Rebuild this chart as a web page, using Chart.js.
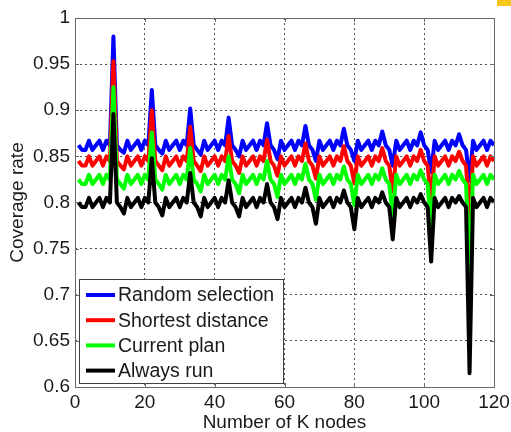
<!DOCTYPE html>
<html>
<head>
<meta charset="utf-8">
<script src="https://cdn.jsdelivr.net/npm/chart.js@4"></script>
<style>
  body { margin: 0; background: #fff; }
  #wrap { position: relative; width: 511px; height: 432px; }
  #mark { position: absolute; left: 497px; top: 0; width: 14px; height: 6px; background: #f5c518; }
</style>
</head>
<body>
<div id="wrap">
  <canvas id="coverageChart" width="511" height="432"></canvas>
  <div id="mark"></div>
</div>
<script>
// Number of K nodes (x)
const kNodes = [
  1, 2, 3, 4, 5, 6, 7, 8, 9, 10,
  11, 12, 13, 14, 15, 16, 17, 18, 19, 20,
  21, 22, 23, 24, 25, 26, 27, 28, 29, 30,
  31, 32, 33, 34, 35, 36, 37, 38, 39, 40,
  41, 42, 43, 44, 45, 46, 47, 48, 49, 50,
  51, 52, 53, 54, 55, 56, 57, 58, 59, 60,
  61, 62, 63, 64, 65, 66, 67, 68, 69, 70,
  71, 72, 73, 74, 75, 76, 77, 78, 79, 80,
  81, 82, 83, 84, 85, 86, 87, 88, 89, 90,
  91, 92, 93, 94, 95, 96, 97, 98, 99, 100,
  101, 102, 103, 104, 105, 106, 107, 108, 109, 110,
  111, 112, 113, 114, 115, 116, 117, 118, 119, 120
];

const randomSelection = [
  0.862, 0.857, 0.857, 0.867, 0.857, 0.862, 0.867, 0.857, 0.867, 0.862,
  0.980, 0.862, 0.857, 0.854, 0.867, 0.857, 0.862, 0.867, 0.857, 0.867, 0.862,
  0.922, 0.862, 0.857, 0.853, 0.867, 0.857, 0.862, 0.867, 0.857, 0.867, 0.862,
  0.902, 0.862, 0.857, 0.852, 0.867, 0.857, 0.862, 0.867, 0.857, 0.867, 0.862,
  0.892, 0.862, 0.857, 0.850, 0.867, 0.857, 0.862, 0.867, 0.857, 0.867, 0.862,
  0.886, 0.862, 0.857, 0.847, 0.867, 0.857, 0.862, 0.867, 0.857, 0.867, 0.862,
  0.883, 0.862, 0.857, 0.845, 0.867, 0.857, 0.862, 0.867, 0.857, 0.867, 0.862,
  0.880, 0.862, 0.857, 0.845, 0.867, 0.857, 0.862, 0.867, 0.857, 0.867, 0.862,
  0.877, 0.862, 0.857, 0.840, 0.867, 0.857, 0.862, 0.867, 0.857, 0.867, 0.862,
  0.876, 0.862, 0.857, 0.833, 0.867, 0.857, 0.862, 0.867, 0.857, 0.867, 0.862,
  0.874, 0.862, 0.857, 0.824, 0.867, 0.857, 0.862, 0.867, 0.857, 0.867, 0.862
];

const shortestDistance = [
  0.845, 0.840, 0.840, 0.850, 0.840, 0.845, 0.850, 0.840, 0.850, 0.845,
  0.953, 0.845, 0.840, 0.836, 0.850, 0.840, 0.845, 0.850, 0.840, 0.850, 0.845,
  0.900, 0.845, 0.840, 0.835, 0.850, 0.840, 0.845, 0.850, 0.840, 0.850, 0.845,
  0.882, 0.845, 0.840, 0.834, 0.850, 0.840, 0.845, 0.850, 0.840, 0.850, 0.845,
  0.872, 0.845, 0.840, 0.832, 0.850, 0.840, 0.845, 0.850, 0.840, 0.850, 0.845,
  0.868, 0.845, 0.840, 0.829, 0.850, 0.840, 0.845, 0.850, 0.840, 0.850, 0.845,
  0.864, 0.845, 0.840, 0.826, 0.850, 0.840, 0.845, 0.850, 0.840, 0.850, 0.845,
  0.861, 0.845, 0.840, 0.821, 0.850, 0.840, 0.845, 0.850, 0.840, 0.850, 0.845,
  0.859, 0.845, 0.840, 0.812, 0.850, 0.840, 0.845, 0.850, 0.840, 0.850, 0.845,
  0.857, 0.845, 0.840, 0.800, 0.850, 0.840, 0.845, 0.850, 0.840, 0.850, 0.845,
  0.855, 0.845, 0.840, 0.780, 0.850, 0.840, 0.845, 0.850, 0.840, 0.850, 0.845
];

const currentPlan = [
  0.825, 0.820, 0.820, 0.830, 0.820, 0.825, 0.830, 0.820, 0.830, 0.825,
  0.925, 0.825, 0.820, 0.815, 0.830, 0.820, 0.825, 0.830, 0.820, 0.830, 0.825,
  0.876, 0.825, 0.820, 0.814, 0.830, 0.820, 0.825, 0.830, 0.820, 0.830, 0.825,
  0.859, 0.825, 0.820, 0.812, 0.830, 0.820, 0.825, 0.830, 0.820, 0.830, 0.825,
  0.850, 0.825, 0.820, 0.810, 0.830, 0.820, 0.825, 0.830, 0.820, 0.830, 0.825,
  0.845, 0.825, 0.820, 0.806, 0.830, 0.820, 0.825, 0.830, 0.820, 0.830, 0.825,
  0.842, 0.825, 0.820, 0.803, 0.830, 0.820, 0.825, 0.830, 0.820, 0.830, 0.825,
  0.839, 0.825, 0.820, 0.797, 0.830, 0.820, 0.825, 0.830, 0.820, 0.830, 0.825,
  0.837, 0.825, 0.820, 0.785, 0.830, 0.820, 0.825, 0.830, 0.820, 0.830, 0.825,
  0.835, 0.825, 0.820, 0.770, 0.830, 0.820, 0.825, 0.830, 0.820, 0.830, 0.825,
  0.834, 0.825, 0.820, 0.720, 0.830, 0.820, 0.825, 0.830, 0.820, 0.830, 0.825
];

const alwaysRun = [
  0.800, 0.795, 0.795, 0.805, 0.795, 0.800, 0.805, 0.795, 0.805, 0.800,
  0.896, 0.800, 0.795, 0.788, 0.805, 0.795, 0.800, 0.805, 0.795, 0.805, 0.800,
  0.848, 0.800, 0.795, 0.786, 0.805, 0.795, 0.800, 0.805, 0.795, 0.805, 0.800,
  0.832, 0.800, 0.795, 0.785, 0.805, 0.795, 0.800, 0.805, 0.795, 0.805, 0.800,
  0.824, 0.800, 0.795, 0.785, 0.805, 0.795, 0.800, 0.805, 0.795, 0.805, 0.800,
  0.820, 0.800, 0.795, 0.782, 0.805, 0.795, 0.800, 0.805, 0.795, 0.805, 0.800,
  0.816, 0.800, 0.795, 0.777, 0.805, 0.795, 0.800, 0.805, 0.795, 0.805, 0.800,
  0.813, 0.800, 0.795, 0.771, 0.805, 0.795, 0.800, 0.805, 0.795, 0.805, 0.800,
  0.811, 0.800, 0.795, 0.760, 0.805, 0.795, 0.800, 0.805, 0.795, 0.805, 0.800,
  0.809, 0.800, 0.795, 0.736, 0.805, 0.795, 0.800, 0.805, 0.795, 0.805, 0.800,
  0.807, 0.800, 0.795, 0.615, 0.805, 0.795, 0.800, 0.805, 0.795, 0.805, 0.800
];

const seriesNames = ['Random selection', 'Shortest distance', 'Current plan', 'Always run'];
const seriesColors = ['#0000ff', '#ff0000', '#00ff00', '#000000'];
const seriesValues = [randomSelection, shortestDistance, currentPlan, alwaysRun];

const xTicks = [0, 20, 40, 60, 80, 100, 120];
const yTicks = [0.6, 0.65, 0.7, 0.75, 0.8, 0.85, 0.9, 0.95, 1];

const fontFamily = "'Liberation Sans', Arial, sans-serif";
const textColor = '#1a1a1a';

// legend box inside the axes, bottom-left (matlab style)
const boxLegend = {
  id: 'boxLegend',
  afterDatasetsDraw(chart) {
    const ctx = chart.ctx;
    const x0 = 79, y0 = 279, w = 204, h = 104;
    ctx.save();
    ctx.fillStyle = '#fff';
    ctx.fillRect(x0, y0, w, h);
    ctx.strokeStyle = '#404040';
    ctx.lineWidth = 1;
    ctx.strokeRect(x0 + 0.5, y0 + 0.5, w, h);
    ctx.font = '19.5px ' + fontFamily;
    ctx.textBaseline = 'middle';
    chart.data.datasets.forEach((ds, i) => {
      const y = y0 + 16 + i * 25.2;
      ctx.strokeStyle = ds.borderColor;
      ctx.lineWidth = 4;
      ctx.beginPath();
      ctx.moveTo(x0 + 7, y);
      ctx.lineTo(x0 + 36, y);
      ctx.stroke();
      ctx.fillStyle = textColor;
      ctx.fillText(ds.label, x0 + 39, y + 1);
    });
    ctx.restore();
  }
};

// axes box and inward tick marks
const axesBox = {
  id: 'axesBox',
  afterDraw(chart) {
    const ctx = chart.ctx;
    const a = chart.chartArea;
    const xs = chart.scales.x, ys = chart.scales.y;
    ctx.save();
    ctx.strokeStyle = '#6a6a6a';
    ctx.lineWidth = 1;
    ctx.strokeRect(a.left + 0.5, a.top + 0.5, a.right - a.left, a.bottom - a.top);
    ctx.beginPath();
    xTicks.forEach(v => {
      const px = Math.round(xs.getPixelForValue(v)) + 0.5;
      ctx.moveTo(px, a.bottom); ctx.lineTo(px, a.bottom - 4);
      ctx.moveTo(px, a.top); ctx.lineTo(px, a.top + 4);
    });
    yTicks.forEach(v => {
      const py = Math.round(ys.getPixelForValue(v)) + 0.5;
      ctx.moveTo(a.left, py); ctx.lineTo(a.left + 4, py);
      ctx.moveTo(a.right, py); ctx.lineTo(a.right - 4, py);
    });
    ctx.stroke();
    ctx.restore();
  }
};

const ctx = document.getElementById('coverageChart');
new Chart(ctx, {
  type: 'line',
  data: {
    datasets: seriesValues.map((vals, i) => ({
      label: seriesNames[i],
      data: vals.map((v, j) => ({ x: kNodes[j], y: v })),
      borderColor: seriesColors[i],
      backgroundColor: seriesColors[i],
      borderWidth: 4,
      borderJoinStyle: 'round',
      pointRadius: 0,
      tension: 0,
      fill: false,
      order: 4 - i
    }))
  },
  options: {
    responsive: false,
    animation: false,
    devicePixelRatio: 1,
    layout: { padding: { top: 18, right: 17, left: 0, bottom: 0 } },
    plugins: {
      legend: { display: false },
      tooltip: { enabled: false }
    },
    scales: {
      x: {
        type: 'linear',
        min: 0,
        max: 120,
        afterFit: s => { s.height = 45; s.paddingLeft = 0; s.paddingRight = 0; },
        afterBuildTicks: s => { s.ticks = xTicks.map(v => ({ value: v })); },
        ticks: {
          padding: 4,
          color: textColor,
          font: { family: fontFamily, size: 19 },
          maxRotation: 0
        },
        grid: {
          color: '#505050',
          lineWidth: 1,
          drawTicks: false
        },
        border: { display: false, dash: [2, 3] },
        title: {
          display: true,
          text: 'Number of K nodes',
          color: textColor,
          font: { family: fontFamily, size: 19, lineHeight: 1 },
          padding: { top: 0, bottom: 0 }
        }
      },
      y: {
        type: 'linear',
        min: 0.6,
        max: 1,
        afterFit: s => { s.width = 75; s.paddingTop = 0; s.paddingBottom = 0; },
        afterBuildTicks: s => { s.ticks = yTicks.map(v => ({ value: v })); },
        ticks: {
          padding: 5,
          color: textColor,
          font: { family: fontFamily, size: 19 },
          callback: v => String(Number(v.toFixed(2)))
        },
        grid: {
          color: '#505050',
          lineWidth: 1,
          drawTicks: false
        },
        border: { display: false, dash: [2, 3] },
        title: {
          display: true,
          text: 'Coverage rate',
          color: textColor,
          font: { family: fontFamily, size: 19, lineHeight: 1.2 },
          padding: { top: 6, bottom: 0 }
        }
      }
    }
  },
  plugins: [boxLegend, axesBox]
});
</script>
</body>
</html>
